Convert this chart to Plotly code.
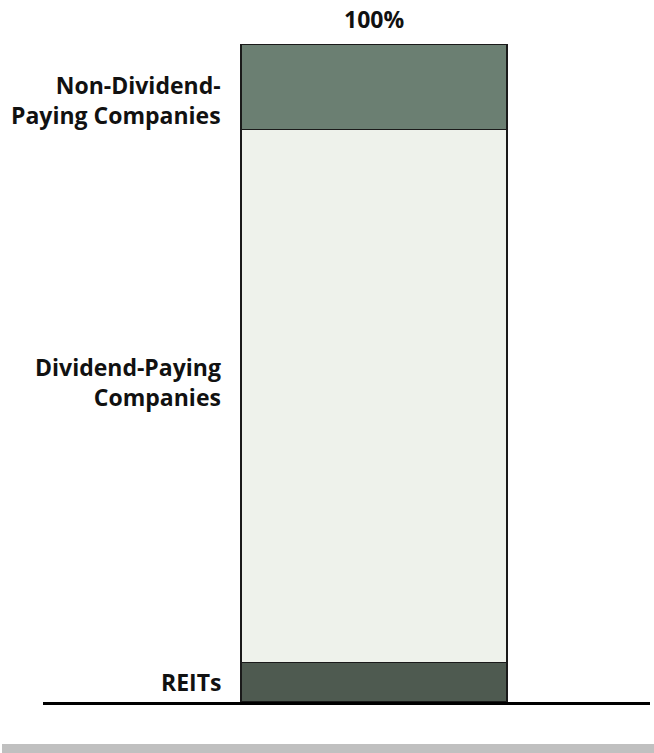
import plotly.graph_objects as go

# Composition of the market, stacked bottom to top (percent of total)
segments = ["REITs", "Dividend-Paying Companies", "Non-Dividend-Paying Companies"]
labels = ["REITs", "Dividend-Paying<br>Companies", "Non-Dividend-<br>Paying Companies"]
shares = [6, 81, 13]
total_label = "100%"

colors = ["#4e5a50", "#eef2eb", "#6b7f72"]
label_shift = [0, 14, -13]

W, H = 654, 753
L, R, T, B = 43, 4, 44, 51
plot_w = W - L - R
bar_px = 266
bar_center_px = 374
px_per_unit = bar_px / 1.0
x_lo = -(bar_center_px - L) / px_per_unit
x_hi = (W - R - bar_center_px) / px_per_unit

fig = go.Figure()
for name, val, col in zip(segments, shares, colors):
    fig.add_trace(go.Bar(
        x=[0], y=[val], name=name, width=1.0,
        marker=dict(color=col, line=dict(color="#1a1a1a", width=1.5)),
        hoverinfo="skip", showlegend=False,
    ))

font = dict(family="Open Sans", size=23, color="#111111", weight=700)
annotations = []
base = 0
for lab, val, dy in zip(labels, shares, label_shift):
    annotations.append(dict(
        x=-0.5, y=base + val / 2, xref="x", yref="y",
        text=lab, showarrow=False, xanchor="right", yanchor="middle",
        align="right", xshift=-18, yshift=dy, font=font,
    ))
    base += val
annotations.append(dict(
    x=0, y=sum(shares), xref="x", yref="y", text=total_label,
    showarrow=False, xanchor="center", yanchor="bottom", yshift=7,
    font=font,
))

plot_h = H - T - B
band_top = 744
fig.update_layout(
    width=W, height=H,
    margin=dict(l=L, r=R, t=T, b=B, pad=0),
    barmode="stack",
    plot_bgcolor="white", paper_bgcolor="white",
    xaxis=dict(range=[x_lo, x_hi], showgrid=False, zeroline=False,
               showticklabels=False, ticks="", showline=True,
               linecolor="black", linewidth=3, fixedrange=True),
    yaxis=dict(range=[0, 100], showgrid=False, zeroline=False,
               showticklabels=False, ticks="", showline=False,
               fixedrange=True),
    annotations=annotations,
    shapes=[dict(
        type="rect", xref="paper", yref="paper",
        x0=(2 - L) / plot_w, x1=(W - L) / plot_w,
        y0=-(band_top - (H - B)) / plot_h, y1=-(H - (H - B)) / plot_h,
        fillcolor="#c0c0c0", line=dict(width=0), layer="above",
    )],
)

fig.write_html("out.html")
